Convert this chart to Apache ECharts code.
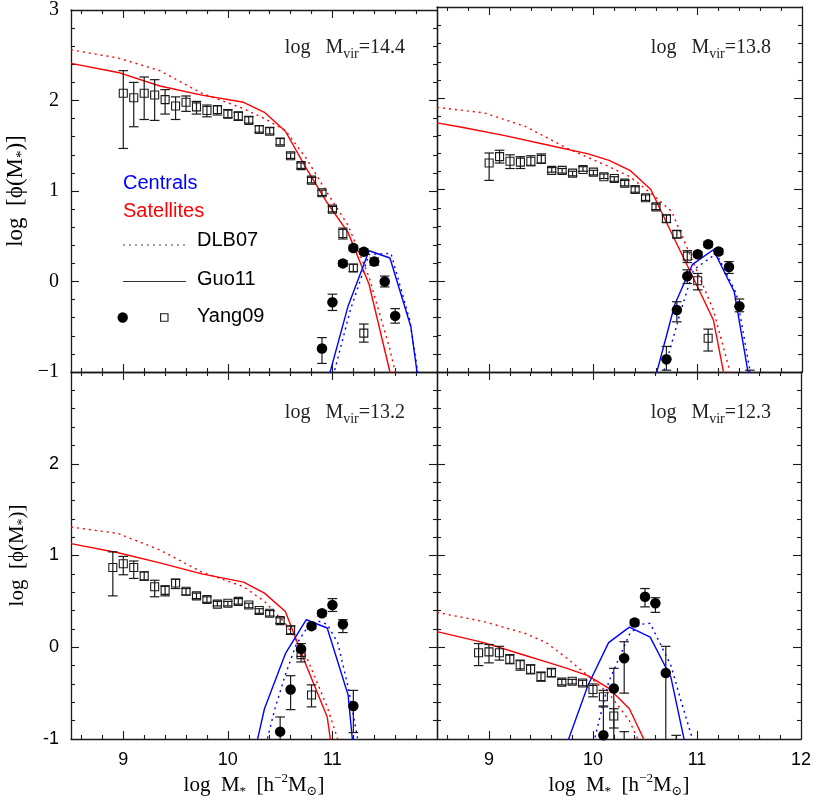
<!DOCTYPE html>
<html>
<head>
<meta charset="utf-8">
<script src="https://cdn.jsdelivr.net/npm/echarts@6/dist/echarts.min.js"></script>
<style>
  html, body { margin: 0; padding: 0; background: #fff; }
  #chart { width: 814px; height: 802px; }
</style>
</head>
<body>
<div id="chart"></div>
<script>
// Yang09 satellites (open squares): [logM, value, errLow, errHigh]
const sat144 = [
  [9.0, 2.08, 1.47, 2.33], [9.1, 2.03, 1.71, 2.20], [9.2, 2.08, 1.79, 2.26], [9.3, 2.06, 1.78, 2.23],
  [9.4, 2.01, 1.85, 2.12], [9.5, 1.94, 1.79, 2.04], [9.6, 1.98, 1.88, 2.05], [9.7, 1.93, 1.85, 1.99],
  [9.8, 1.89, 1.82, 1.95], [9.9, 1.90, 1.84, 1.94], [10.0, 1.85, 1.81, 1.90], [10.1, 1.83, 1.78, 1.87],
  [10.2, 1.78, 1.75, 1.82], [10.3, 1.68, 1.65, 1.72], [10.4, 1.66, 1.63, 1.70], [10.5, 1.54, 1.51, 1.58],
  [10.6, 1.39, 1.36, 1.42], [10.7, 1.28, 1.25, 1.31], [10.8, 1.12, 1.09, 1.15], [10.9, 0.98, 0.95, 1.01],
  [11.0, 0.80, 0.77, 0.83], [11.1, 0.53, 0.47, 0.59], [11.2, 0.15, 0.11, 0.19], [11.3, -0.57, -0.67, -0.47]
]
const sat138 = [
  [9.0, 1.29, 1.10, 1.40], [9.1, 1.36, 1.29, 1.43], [9.2, 1.31, 1.23, 1.38], [9.3, 1.30, 1.23, 1.36],
  [9.4, 1.31, 1.26, 1.37], [9.5, 1.33, 1.29, 1.39], [9.6, 1.21, 1.19, 1.24], [9.7, 1.21, 1.18, 1.23],
  [9.8, 1.18, 1.15, 1.20], [9.9, 1.22, 1.20, 1.25], [10.0, 1.19, 1.16, 1.21], [10.1, 1.14, 1.12, 1.17],
  [10.2, 1.12, 1.09, 1.14], [10.3, 1.07, 1.04, 1.10], [10.4, 1.00, 0.97, 1.03], [10.5, 0.91, 0.88, 0.94],
  [10.6, 0.81, 0.78, 0.84], [10.7, 0.68, 0.64, 0.72], [10.8, 0.51, 0.47, 0.55], [10.9, 0.27, 0.20, 0.33],
  [11.0, 0.00, -0.10, 0.08], [11.1, -0.63, -0.77, -0.53]
]
const sat132 = [
  [8.9, 0.87, 0.56, 1.04], [9.0, 0.91, 0.79, 0.99], [9.1, 0.87, 0.75, 0.94], [9.2, 0.78, 0.73, 0.82],
  [9.3, 0.66, 0.55, 0.73], [9.4, 0.62, 0.56, 0.67], [9.5, 0.70, 0.64, 0.74], [9.6, 0.61, 0.57, 0.64],
  [9.7, 0.56, 0.53, 0.59], [9.8, 0.52, 0.49, 0.55], [9.9, 0.47, 0.45, 0.50], [10.0, 0.48, 0.45, 0.50],
  [10.1, 0.50, 0.47, 0.53], [10.2, 0.46, 0.43, 0.48], [10.3, 0.40, 0.37, 0.42], [10.4, 0.37, 0.34, 0.40],
  [10.5, 0.29, 0.26, 0.32], [10.6, 0.19, 0.14, 0.23], [10.7, -0.08, -0.16, -0.01], [10.8, -0.52, -0.65, -0.41]
]
const sat123 = [
  [8.9, -0.06, -0.20, 0.04], [9.0, -0.05, -0.17, 0.03], [9.1, -0.06, -0.14, 0.01], [9.2, -0.13, -0.18, -0.08],
  [9.3, -0.19, -0.25, -0.14], [9.4, -0.24, -0.29, -0.19], [9.5, -0.32, -0.37, -0.27], [9.6, -0.28, -0.32, -0.23],
  [9.7, -0.38, -0.41, -0.35], [9.8, -0.37, -0.40, -0.35], [9.9, -0.39, -0.42, -0.36], [10.0, -0.46, -0.54, -0.40],
  [10.1, -0.54, -0.64, -0.47], [10.2, -0.75, -0.88, -0.67], [10.3, -1.10, -1.30, -0.92], [10.8, -1.10, -1.30, -0.96]
]

// Yang09 centrals (filled circles): [logM, value, errLow, errHigh]
const cen144 = [
  [10.9, -0.74, -0.905, -0.62], [11.0, -0.23, -0.32, -0.14], [11.1, 0.20, 0.17, 0.23], [11.2, 0.37, 0.34, 0.40],
  [11.3, 0.33, 0.30, 0.36], [11.4, 0.22, 0.18, 0.26], [11.5, 0.00, -0.06, 0.06], [11.6, -0.38, -0.46, -0.30]
]
const cen138 = [
  [10.7, -0.86, -0.98, -0.72], [10.8, -0.32, -0.45, -0.23], [10.9, 0.05, -0.03, 0.12], [11.0, 0.29, 0.26, 0.32],
  [11.1, 0.40, 0.37, 0.43], [11.2, 0.32, 0.29, 0.35], [11.3, 0.15, 0.08, 0.21], [11.4, -0.28, -0.34, -0.20],
  [11.5, -1.15, -1.30, -0.98]
]
const cen132 = [
  [10.5, -0.92, -1.10, -0.76], [10.6, -0.46, -0.68, -0.31], [10.7, -0.02, -0.10, 0.04], [10.8, 0.23, 0.20, 0.26],
  [10.9, 0.37, 0.34, 0.40], [11.0, 0.46, 0.39, 0.53], [11.1, 0.25, 0.16, 0.30], [11.2, -0.64, -0.93, -0.47]
]
const cen123 = [
  [10.1, -0.96, -1.20, -0.65], [10.2, -0.45, -1.20, -0.23], [10.3, -0.12, -0.50, 0.06], [10.4, 0.27, 0.24, 0.30],
  [10.5, 0.55, 0.44, 0.64], [10.6, 0.48, 0.38, 0.54], [10.7, -0.28, -1.20, 0.01]
]

// Guo11 (solid) and DLB07 (dotted) model curves: [logM, value]
const guoSat144 = [[8.5, 2.41], [8.95, 2.31], [9.35, 2.16], [9.75, 2.06], [10.15, 1.98], [10.35, 1.87], [10.55, 1.66], [10.75, 1.25], [10.95, 0.87], [11.15, 0.54], [11.35, -0.03], [11.55, -1.0], [11.65, -1.6]]
const dlbSat144 = [[8.5, 2.56], [8.95, 2.47], [9.35, 2.33], [9.75, 2.08], [10.15, 1.91], [10.35, 1.80], [10.55, 1.67], [10.75, 1.36], [10.95, 0.98], [11.15, 0.62], [11.35, 0.05], [11.55, -0.75], [11.65, -1.25]]
const guoCen144 = [[10.95, -1.12], [11.15, -0.27], [11.35, 0.34], [11.55, 0.26], [11.75, -0.50], [11.95, -2.2]]
const dlbCen144 = [[10.95, -1.3], [11.17, -0.32], [11.35, 0.30], [11.56, 0.31], [11.74, -0.43], [11.95, -2.0]]

const guoSat138 = [[8.5, 1.73], [8.75, 1.68], [9.15, 1.59], [9.55, 1.49], [9.95, 1.39], [10.15, 1.32], [10.35, 1.21], [10.55, 1.0], [10.75, 0.52], [10.95, 0.05], [11.15, -0.43], [11.35, -1.6]]
const dlbSat138 = [[8.5, 1.90], [8.95, 1.84], [9.35, 1.69], [9.75, 1.45], [10.15, 1.25], [10.35, 1.14], [10.55, 0.96], [10.75, 0.76], [10.95, 0.22], [11.15, -0.32], [11.31, -1.0], [11.4, -1.5]]
const guoCen138 = [[10.55, -1.25], [10.78, -0.26], [10.95, 0.18], [11.15, 0.34], [11.35, -0.12], [11.55, -1.45]]
const dlbCen138 = [[10.6, -1.3], [10.83, -0.36], [10.96, 0.12], [11.18, 0.30], [11.37, -0.14], [11.55, -1.3]]

const guoSat132 = [[8.5, 1.13], [8.95, 1.03], [9.35, 0.92], [9.75, 0.80], [10.15, 0.71], [10.35, 0.59], [10.55, 0.39], [10.75, -0.2], [10.95, -0.76], [11.05, -1.56]]
const dlbSat132 = [[8.5, 1.31], [8.95, 1.24], [9.35, 1.06], [9.75, 0.82], [10.15, 0.66], [10.35, 0.50], [10.55, 0.26], [10.75, -0.1], [10.95, -0.65], [11.05, -1.0], [11.15, -1.5]]
const guoCen132 = [[10.15, -1.68], [10.35, -0.67], [10.55, -0.07], [10.75, 0.30], [10.95, 0.21], [11.15, -0.52], [11.35, -2.9]]
const dlbCen132 = [[10.35, -1.12], [10.45, -0.67], [10.55, -0.3], [10.65, 0.02], [10.75, 0.2], [10.85, 0.29], [10.95, 0.25], [11.05, 0.05], [11.15, -0.43], [11.25, -1.05]]

const guoSat123 = [[8.5, 0.17], [8.95, 0.05], [9.35, -0.09], [9.55, -0.16], [9.75, -0.23], [9.95, -0.31], [10.15, -0.445], [10.35, -0.67], [10.55, -1.15]]
const dlbSat123 = [[8.5, 0.38], [8.95, 0.28], [9.35, 0.15], [9.55, 0.05], [9.75, -0.12], [9.95, -0.31], [10.15, -0.5], [10.35, -0.8], [10.45, -1.05]]
const guoCen123 = [[9.75, -1.05], [9.95, -0.42], [10.15, 0.05], [10.35, 0.22], [10.55, 0.11], [10.75, -0.33], [10.95, -1.4]]
const dlbCen123 = [[9.95, -1.3], [10.15, -0.38], [10.35, 0.14], [10.45, 0.25], [10.55, 0.26], [10.75, -0.2], [10.85, -0.6], [10.97, -1.05]]

// ticks and tick labels
const xMajorTicks = [9, 10, 11]
const xMinorTicks = [8.6, 8.8, 9.2, 9.4, 9.6, 9.8, 10.2, 10.4, 10.6, 10.8, 11.2, 11.4, 11.6, 11.8]
const yMajorTicks = [0, 1, 2]
const yMinorTicks = [-0.8, -0.6, -0.4, -0.2, 0.2, 0.4, 0.6, 0.8, 1.2, 1.4, 1.6, 1.8, 2.2, 2.4, 2.6, 2.8]
const yLabelsTop = [-1, 0, 1, 2, 3]
const yLabelsBottom = [-1, 0, 1, 2]
const xLabelsLeft = [9, 10, 11]
const xLabelsRight = [9, 10, 11, 12]
const haloMasses = ['14.4', '13.8', '13.2', '12.3']

const RED = '#ff0000'
const BLUE = '#0000ff'
const INK = '#1a1a1a'
const SERIF = '"Liberation Serif", "DejaVu Serif", serif'
const SANS = '"Liberation Sans", Arial, sans-serif'

const panels = [
  { box: { left: 71, top: 7, width: 366, height: 365 }, sq: sat144, ci: cen144, lines: [dlbSat144, guoSat144, dlbCen144, guoCen144], yLabels: yLabelsTop, ySerif: true },
  { box: { left: 437, top: 7, width: 365, height: 365 }, sq: sat138, ci: cen138, lines: [dlbSat138, guoSat138, dlbCen138, guoCen138] },
  { box: { left: 71, top: 372, width: 366, height: 367 }, sq: sat132, ci: cen132, lines: [dlbSat132, guoSat132, dlbCen132, guoCen132], yLabels: yLabelsBottom, xLabels: xLabelsLeft },
  { box: { left: 437, top: 372, width: 365, height: 367 }, sq: sat123, ci: cen123, lines: [dlbSat123, guoSat123, dlbCen123, guoCen123], xLabels: xLabelsRight }
]

const frameLine = { show: true, onZero: false, lineStyle: { color: INK, width: 1.3 } }
const noLine = { show: false, onZero: false }
const tick = (values, length) => ({ show: true, inside: true, length, customValues: values, lineStyle: { color: INK, width: 1.1 } })

const yName = (size) => ({
  rich: {
    a: { fontFamily: SERIF, fontSize: size, color: '#000', lineHeight: size + 2 },
    s: { fontFamily: SERIF, fontSize: size * 0.65, color: '#000', lineHeight: size * 0.65, padding: [size * 0.6, 0, 0, 0] }
  }
})
const yTitle = '{a|log  [ϕ(M}{s|*}{a|)]}'
const xTitle = '{a|log  M}{s|*}{a|  [h}{u|−2}{a|M}{s|⊙}{a|]}'

const xAxes = []
const yAxes = []
panels.forEach((p, i) => {
  const xb = { gridIndex: i, type: 'value', min: 8.5, max: 12, splitLine: { show: false } }
  const yb = { gridIndex: i, type: 'value', min: -1, max: 3, splitLine: { show: false } }
  xAxes.push(
    {
      ...xb, position: 'bottom', axisLine: frameLine, axisTick: tick(xMajorTicks, 8),
      axisLabel: p.xLabels
        ? { show: true, customValues: p.xLabels, margin: 12, color: '#000', fontFamily: SANS, fontSize: 18 }
        : { show: false },
      name: p.xLabels ? xTitle : '', nameLocation: 'middle', nameGap: 35,
      nameTextStyle: {
        rich: {
          a: { fontFamily: SERIF, fontSize: 21, color: '#000', lineHeight: 23 },
          s: { fontFamily: SERIF, fontSize: 13, color: '#000', lineHeight: 13, padding: [13, 0, 0, 0] },
          u: { fontFamily: SERIF, fontSize: 13, color: '#000', lineHeight: 13, padding: [0, 0, 13, 0] }
        }
      }
    },
    { ...xb, position: 'top', axisLine: frameLine, axisTick: tick(xMajorTicks, 8), axisLabel: { show: false } },
    { ...xb, position: 'bottom', axisLine: noLine, axisTick: tick(xMinorTicks, 4), axisLabel: { show: false } },
    { ...xb, position: 'top', axisLine: noLine, axisTick: tick(xMinorTicks, 4), axisLabel: { show: false } }
  )
  yAxes.push(
    {
      ...yb, position: 'left', axisLine: frameLine, axisTick: tick(yMajorTicks, 8),
      axisLabel: p.yLabels
        ? {
            show: true, customValues: p.yLabels, margin: 12, color: '#000',
            fontFamily: p.ySerif ? SERIF : SANS, fontSize: p.ySerif ? 20 : 18,
            formatter: v => (p.ySerif && v < 0 ? '−' + Math.abs(v) : String(v))
          }
        : { show: false },
      name: p.yLabels ? yTitle : '', nameLocation: 'middle', nameRotate: 90,
      nameGap: p.ySerif ? 43 : 42, nameTextStyle: yName(p.ySerif ? 23 : 21)
    },
    { ...yb, position: 'right', axisLine: frameLine, axisTick: tick(yMajorTicks, 8), axisLabel: { show: false } },
    { ...yb, position: 'left', axisLine: noLine, axisTick: tick(yMinorTicks, 4), axisLabel: { show: false } },
    { ...yb, position: 'right', axisLine: noLine, axisTick: tick(yMinorTicks, 4), axisLabel: { show: false } }
  )
})

const curve = (data, color, dotted, ai) => ({
  type: 'line', data, xAxisIndex: ai, yAxisIndex: ai, showSymbol: false, symbol: 'none',
  clip: true, silent: true, z: 2,
  lineStyle: { color, width: 1.4, opacity: 1, type: dotted ? [2, 4] : 'solid' }
})

const errorBars = (data, ai) => ({
  type: 'custom', xAxisIndex: ai, yAxisIndex: ai, clip: true, silent: true, z: 3,
  data, encode: { x: 0, y: 1 },
  renderItem: (params, api) => {
    const x = api.value(0)
    const hi = api.coord([x, api.value(3)])
    const lo = api.coord([x, api.value(2)])
    const w = 4.8
    const style = { stroke: INK, lineWidth: 1.2 }
    return {
      type: 'group',
      children: [
        { type: 'line', shape: { x1: hi[0], y1: hi[1], x2: lo[0], y2: lo[1] }, style },
        { type: 'line', shape: { x1: hi[0] - w, y1: hi[1], x2: hi[0] + w, y2: hi[1] }, style },
        { type: 'line', shape: { x1: lo[0] - w, y1: lo[1], x2: lo[0] + w, y2: lo[1] }, style }
      ]
    }
  }
})

const series = []
panels.forEach((p, i) => {
  const ai = i * 4
  series.push(
    curve(p.lines[0], RED, true, ai),
    curve(p.lines[1], RED, false, ai),
    curve(p.lines[2], BLUE, true, ai),
    curve(p.lines[3], BLUE, false, ai),
    errorBars(p.sq, ai),
    errorBars(p.ci, ai),
    {
      type: 'scatter', xAxisIndex: ai, yAxisIndex: ai, clip: true, silent: true, z: 4,
      data: p.sq.map(d => [d[0], d[1]]), symbol: 'rect', symbolSize: 8,
      itemStyle: { color: 'rgba(0,0,0,0)', borderColor: INK, borderWidth: 1.1, opacity: 1 }
    },
    {
      type: 'scatter', xAxisIndex: ai, yAxisIndex: ai, clip: true, silent: true, z: 5,
      data: p.ci.map(d => [d[0], d[1]]), symbol: 'circle', symbolSize: 10.5,
      itemStyle: { color: '#000', opacity: 1 }
    }
  )
})

// panel annotations and legend
const graphic = panels.map((p, i) => ({
  type: 'text', x: p.box.left + 334, y: p.box.top + 41, silent: true,
  style: {
    text: '{a|log   M}{b|vir}{a|=' + haloMasses[i] + '}',
    align: 'right', verticalAlign: 'middle',
    rich: {
      a: { fontFamily: SERIF, fontSize: 20, fill: '#222', lineHeight: 22 },
      b: { fontFamily: SERIF, fontSize: 14, fill: '#222', lineHeight: 14, padding: [13, 0, 0, 0] }
    }
  }
}))
const legendFont = '20px ' + SANS
graphic.push(
  { type: 'text', x: 123, y: 183, silent: true, style: { text: 'Centrals', fill: BLUE, font: legendFont, verticalAlign: 'middle' } },
  { type: 'text', x: 123, y: 211, silent: true, style: { text: 'Satellites', fill: RED, font: legendFont, verticalAlign: 'middle' } },
  { type: 'line', silent: true, shape: { x1: 123, y1: 245, x2: 186, y2: 245 }, style: { stroke: '#444', lineWidth: 1, lineDash: [2, 4] } },
  { type: 'text', x: 197, y: 240, silent: true, style: { text: 'DLB07', fill: '#000', font: legendFont, verticalAlign: 'middle' } },
  { type: 'line', silent: true, shape: { x1: 123, y1: 281.5, x2: 186, y2: 281.5 }, style: { stroke: '#333', lineWidth: 1 } },
  { type: 'text', x: 197, y: 279, silent: true, style: { text: 'Guo11', fill: '#000', font: legendFont, verticalAlign: 'middle' } },
  { type: 'circle', silent: true, shape: { cx: 122.7, cy: 317.5, r: 5.2 }, style: { fill: '#000' } },
  { type: 'rect', silent: true, shape: { x: 160.6, y: 313.8, width: 7.4, height: 7.4 }, style: { fill: 'none', stroke: INK, lineWidth: 1.1 } },
  { type: 'text', x: 197, y: 316, silent: true, style: { text: 'Yang09', fill: '#000', font: legendFont, verticalAlign: 'middle' } }
)

const chart = echarts.init(document.getElementById('chart'), null, { renderer: 'canvas' })
chart.setOption({
  animation: false,
  backgroundColor: '#fff',
  grid: panels.map(p => ({ ...p.box, containLabel: false })),
  xAxis: xAxes,
  yAxis: yAxes,
  series,
  graphic
})
</script>
</body>
</html>
